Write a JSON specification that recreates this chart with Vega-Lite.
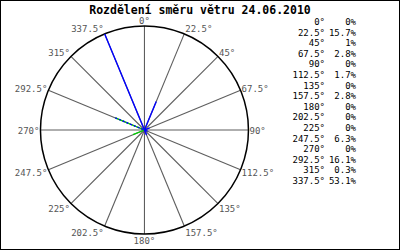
{
  "$schema": "https://vega.github.io/schema/vega-lite/v6.json",
  "width": 400,
  "height": 250,
  "autosize": {"type": "none"},
  "padding": 0,
  "background": "white",
  "config": {"view": {"stroke": "black", "strokeWidth": 2}},
  "title": {"text": "Rozdělení směru větru 24.06.2010", "font": "DejaVu Sans Mono", "fontSize": 11.5, "fontWeight": "bold", "color": "black", "anchor": "middle", "baseline": "middle", "offset": -22},
  "data": {"values": [
    {"dir": 0, "pct": 0},
    {"dir": 22.5, "pct": 15.7},
    {"dir": 45, "pct": 1},
    {"dir": 67.5, "pct": 2.8},
    {"dir": 90, "pct": 0},
    {"dir": 112.5, "pct": 1.7},
    {"dir": 135, "pct": 0},
    {"dir": 157.5, "pct": 2.8},
    {"dir": 180, "pct": 0},
    {"dir": 202.5, "pct": 0},
    {"dir": 225, "pct": 0},
    {"dir": 247.5, "pct": 6.3},
    {"dir": 270, "pct": 0},
    {"dir": 292.5, "pct": 16.1},
    {"dir": 315, "pct": 0.3},
    {"dir": 337.5, "pct": 53.1}
  ]},
  "resolve": {"scale": {"y": "independent"}},
  "layer": [
    {
      "transform": [
        {"joinaggregate": [{"op": "max", "field": "pct", "as": "maxp"}]},
        {"calculate": "sin(datum.dir*PI/180)", "as": "sx"},
        {"calculate": "cos(datum.dir*PI/180)", "as": "sy"},
        {"calculate": "datum.pct/datum.maxp", "as": "r"},
        {"calculate": "datum.r*datum.sx", "as": "ex"},
        {"calculate": "datum.r*datum.sy", "as": "ey"},
        {"calculate": "datum.dir + '°'", "as": "lab"},
        {"calculate": "datum.sy*1.06 - 0.01", "as": "ly"}
      ],
      "encoding": {
        "x": {"field": "sx", "type": "quantitative", "scale": {"domain": [-1.389, 2.457], "nice": false, "zero": false}, "axis": null},
        "y": {"field": "sy", "type": "quantitative", "scale": {"domain": [-1.154, 1.25], "nice": false, "zero": false}, "axis": null}
      },
      "layer": [
        {
          "mark": {"type": "rule", "color": "#5e5e5e", "strokeWidth": 1.1},
          "encoding": {"x2": {"datum": 0}, "y2": {"datum": 0}}
        },
        {
          "data": {"values": [{"cx": 0, "cy": 0}]},
          "mark": {"type": "point", "shape": "circle", "filled": false, "size": 43264, "color": "black", "opacity": 1, "strokeWidth": 1.5},
          "encoding": {"x": {"field": "cx", "type": "quantitative"}, "y": {"field": "cy", "type": "quantitative"}}
        },
        {
          "transform": [{"filter": "datum.dir == 247.5 || datum.dir == 292.5"}],
          "mark": {"type": "rule", "color": "#00d000", "strokeWidth": 1.3},
          "encoding": {"x": {"field": "ex", "type": "quantitative"}, "y": {"field": "ey", "type": "quantitative"}, "x2": {"datum": 0}, "y2": {"datum": 0}}
        },
        {
          "transform": [{"filter": "datum.pct > 0 && datum.dir != 247.5"}],
          "mark": {"type": "rule", "color": "#0000ff", "strokeWidth": 1.4},
          "encoding": {
            "x": {"field": "ex", "type": "quantitative"}, "y": {"field": "ey", "type": "quantitative"}, "x2": {"datum": 0}, "y2": {"datum": 0},
            "strokeDash": {"condition": {"test": "datum.dir == 292.5", "value": [2, 2]}, "value": [1, 0]}
          }
        },
        {
          "transform": [{"filter": "datum.sx > 0.01"}],
          "mark": {"type": "text", "align": "left", "baseline": "middle", "dx": 1, "font": "DejaVu Sans Mono", "fontSize": 9, "color": "#555555"},
          "encoding": {"y": {"field": "ly", "type": "quantitative"}, "text": {"field": "lab"}}
        },
        {
          "transform": [{"filter": "datum.sx < -0.01"}],
          "mark": {"type": "text", "align": "right", "baseline": "middle", "dx": -1, "font": "DejaVu Sans Mono", "fontSize": 9, "color": "#555555"},
          "encoding": {"y": {"field": "ly", "type": "quantitative"}, "text": {"field": "lab"}}
        },
        {
          "transform": [{"filter": "abs(datum.sx) <= 0.01"}],
          "mark": {"type": "text", "align": "center", "baseline": "middle", "font": "DejaVu Sans Mono", "fontSize": 9, "color": "#555555"},
          "encoding": {"y": {"field": "ly", "type": "quantitative"}, "text": {"field": "lab"}}
        }
      ]
    },
    {
      "transform": [
        {"calculate": "datum.dir + '°'", "as": "lab"},
        {"calculate": "format(datum.pct, '.1~f') + '%'", "as": "ptxt"}
      ],
      "encoding": {
        "y": {"field": "dir", "type": "ordinal", "sort": "ascending", "scale": {"type": "point", "range": [22, 181], "padding": 0}, "axis": null}
      },
      "layer": [
        {
          "mark": {"type": "text", "align": "right", "baseline": "middle", "font": "DejaVu Sans Mono", "fontSize": 9, "color": "black"},
          "encoding": {"x": {"value": 325}, "text": {"field": "lab"}}
        },
        {
          "mark": {"type": "text", "align": "right", "baseline": "middle", "font": "DejaVu Sans Mono", "fontSize": 9, "color": "black"},
          "encoding": {"x": {"value": 356}, "text": {"field": "ptxt"}}
        }
      ]
    }
  ]
}
